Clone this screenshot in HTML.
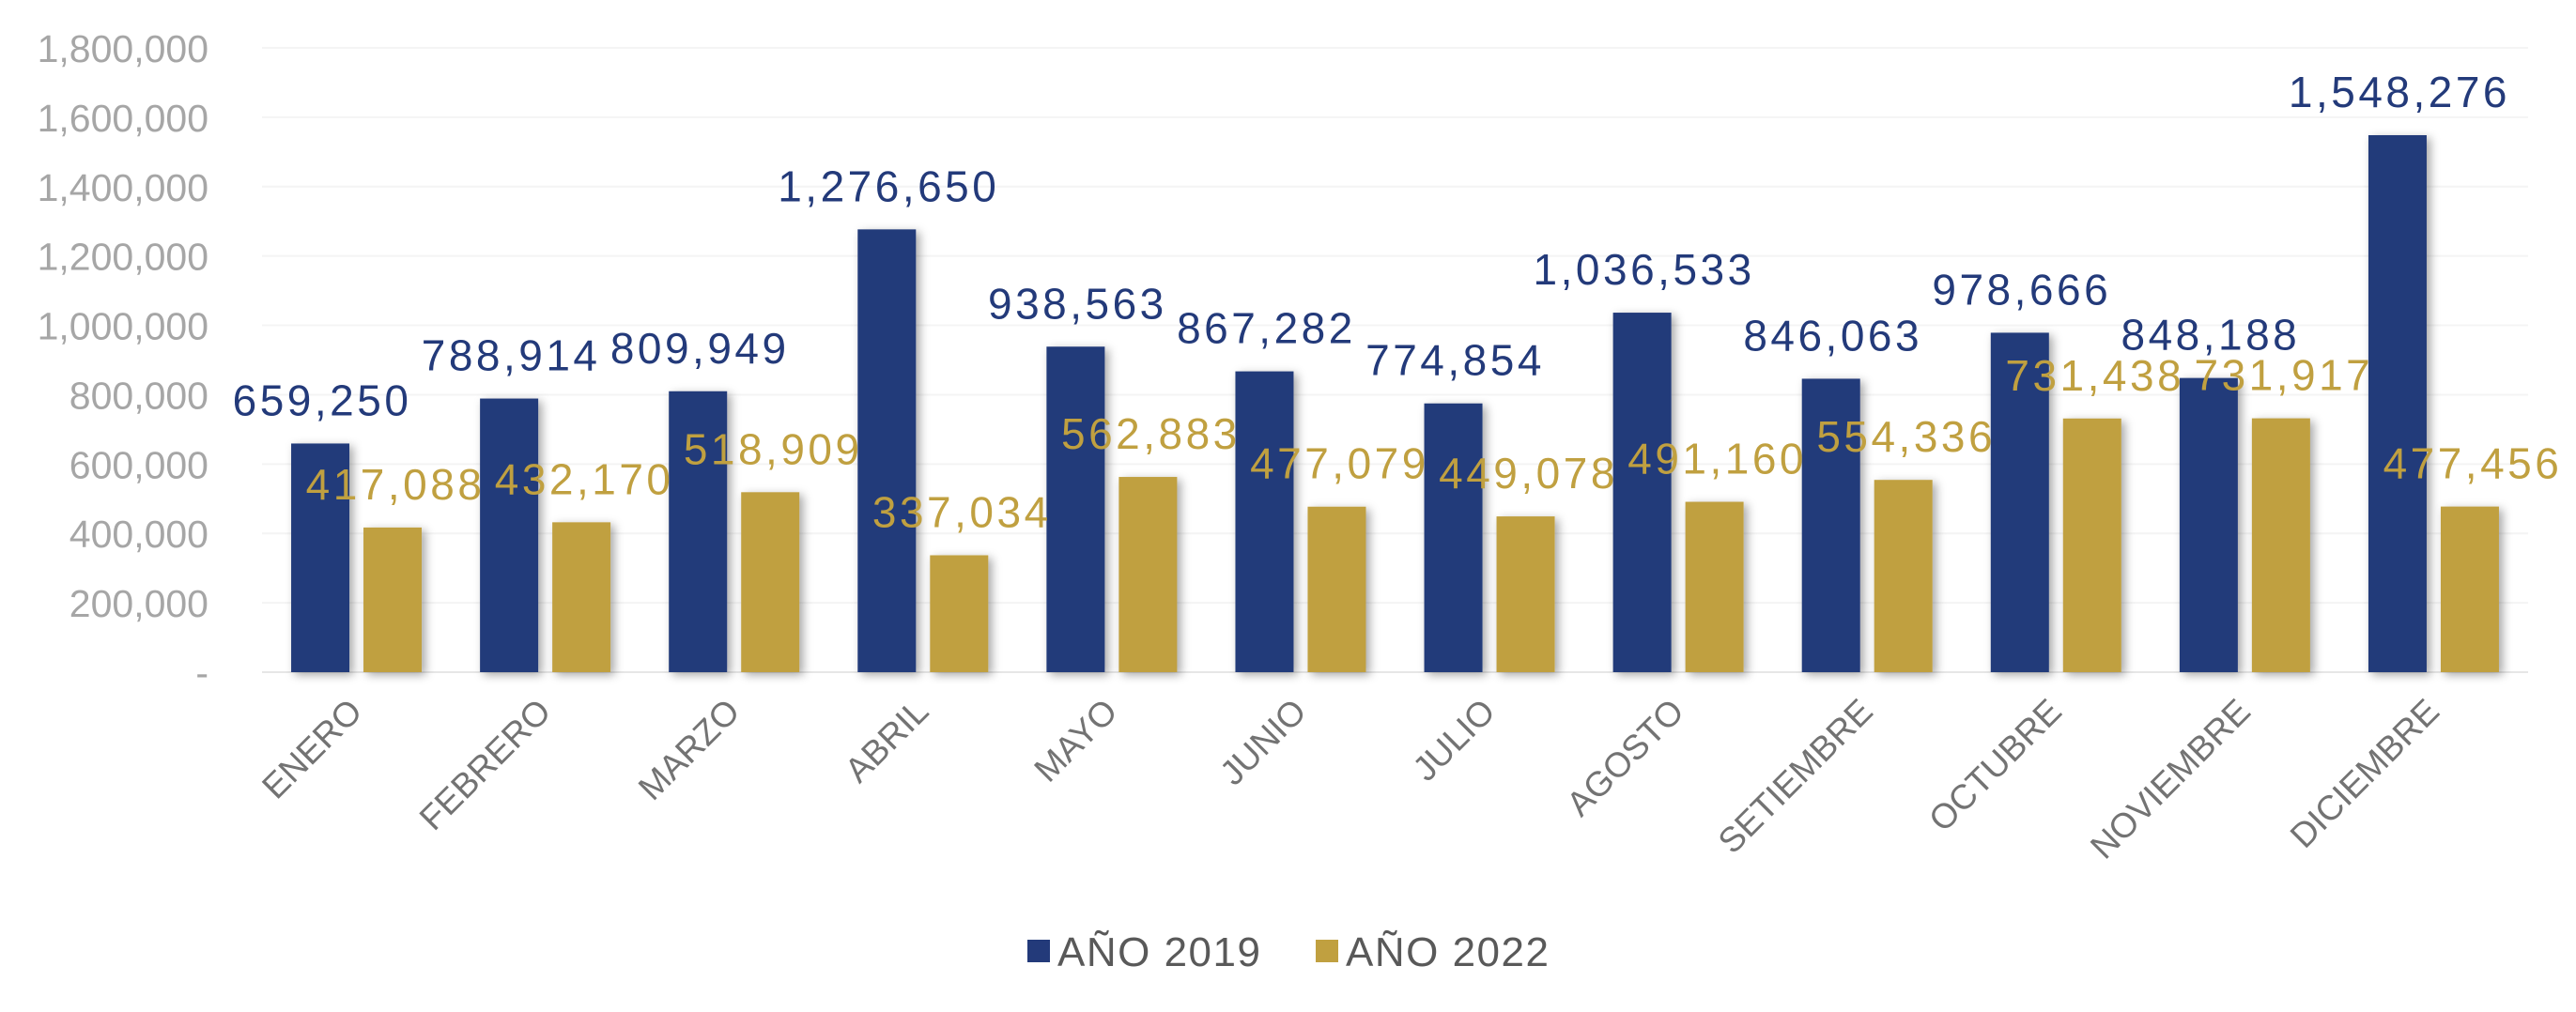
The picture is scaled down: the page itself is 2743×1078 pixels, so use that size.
<!DOCTYPE html>
<html><head><meta charset="utf-8"><style>
html,body{margin:0;padding:0;background:#fff;}
svg{display:block;font-family:"Liberation Sans",sans-serif;}
</style></head><body>
<svg id="chart" width="2743" height="1078" viewBox="0 0 2743 1078">
<defs><filter id="sh" x="-30%" y="-10%" width="160%" height="120%"><feDropShadow dx="4" dy="3" stdDeviation="5" flood-color="#000" flood-opacity="0.35"/></filter></defs>
<g id="grid"></g><g id="bars"></g><g id="labels"></g><g id="xaxis"></g><g id="yaxis"></g>
<g>
<rect x="1094" y="1001" width="24" height="24" fill="#233a7a"/>
<text x="1126" y="1029" font-size="44" letter-spacing="1.5" fill="#595959">AÑO 2019</text>
<rect x="1401" y="1001" width="24" height="24" fill="#c0a040"/>
<text x="1433" y="1029" font-size="44" letter-spacing="1.5" fill="#595959">AÑO 2022</text>
</g>
</svg>
<script>
const categories=["ENERO","FEBRERO","MARZO","ABRIL","MAYO","JUNIO","JULIO","AGOSTO","SETIEMBRE","OCTUBRE","NOVIEMBRE","DICIEMBRE"];
const values2019=[659250,788914,809949,1276650,938563,867282,774854,1036533,846063,978666,848188,1548276];
const values2022=[417088,432170,518909,337034,562883,477079,449078,491160,554336,731438,731917,477456];
const yTicks=[0,200000,400000,600000,800000,1000000,1200000,1400000,1600000,1800000];
const NS="http://www.w3.org/2000/svg";
const plotL=279,plotR=2692,base=716,top0=51,yMax=1800000;
const band=(plotR-plotL)/categories.length;
function y(v){return base-(v/yMax)*(base-top0);}
function x(i){return plotL+band*i+band/2;}
function fmt(v){return v.toLocaleString("en-US");}
function mk(tag,attrs,parent,txt){const e=document.createElementNS(NS,tag);for(const k in attrs)e.setAttribute(k,attrs[k]);if(txt!==undefined)e.textContent=txt;parent.appendChild(e);return e;}
const g=document.getElementById("grid"),b=document.getElementById("bars"),l=document.getElementById("labels"),xa=document.getElementById("xaxis"),ya=document.getElementById("yaxis");
yTicks.forEach(t=>{
  const ln=mk("line",{x1:plotL,x2:plotR,y1:y(t),y2:y(t),stroke:t===0?"#e6e6e6":"#f4f4f4","stroke-width":2},g);
  
  
  const tx=mk("text",{x:222,y:y(t)+15,"text-anchor":"end","font-size":41,fill:"#a6a6a6"},ya,t===0?"-":fmt(t));
  
  
});
const bw=62,gap=15;
categories.forEach((c,i)=>{
  const cx=x(i);
  const x1=cx-gap/2-bw,x2=cx+gap/2;
  const r1=mk("rect",{x:x1,y:y(values2019[i]),width:bw,height:base-y(values2019[i]),fill:"#233a7a",filter:"url(#sh)"},b);
  
  
  const r2=mk("rect",{x:x2,y:y(values2022[i]),width:bw,height:base-y(values2022[i]),fill:"#c0a040",filter:"url(#sh)"},b);
  
  
  const t1=mk("text",{x:x1+bw/2+2,y:y(values2019[i])-30,"text-anchor":"middle","font-size":46,"letter-spacing":3.5,fill:"#233a7a"},l,fmt(values2019[i]));
  
  
  const t2=mk("text",{x:x2+bw/2+3,y:y(values2022[i])-30,"text-anchor":"middle","font-size":46,"letter-spacing":3.5,fill:"#c0a040"},l,fmt(values2022[i]));
  
  
  const xl=mk("text",{x:0,y:0,"text-anchor":"end","font-size":37,fill:"#737373",transform:`translate(${cx+8},${760}) rotate(-45)`},xa,c);
  
  
});
</script>
</body></html>
